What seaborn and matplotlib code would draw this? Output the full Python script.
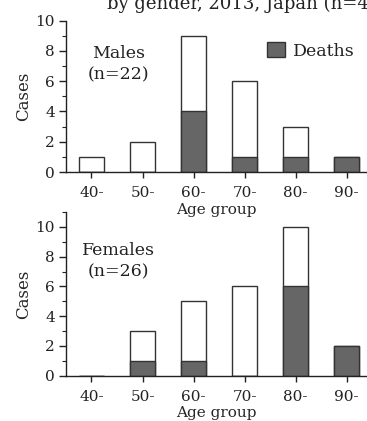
import numpy as np
import pandas as pd
import matplotlib
matplotlib.use("Agg")
import matplotlib.pyplot as plt
from matplotlib.patches import Patch
from matplotlib.ticker import MultipleLocator
import seaborn as sns

age_groups = ["40-", "50-", "60-", "70-", "80-", "90-"]
male_cases = [1, 2, 9, 6, 3, 1]
male_deaths = [0, 0, 4, 1, 1, 1]
female_cases = [0, 3, 5, 6, 10, 2]
female_deaths = [0, 1, 1, 0, 6, 2]

sns.set_theme(style="ticks")
plt.rcParams["font.family"] = ["DejaVu Serif"]
plt.rcParams["text.color"] = "#222222"

fig = plt.figure(figsize=(3.67, 4.21), dpi=100)
ax1 = fig.add_axes([0.1798, 0.5914, 0.8202, 0.3594])
ax2 = fig.add_axes([0.1798, 0.1076, 0.8202, 0.3888])

edge = "#333333"
gray = "#666666"

def panel(ax, cases, deaths, ymax, label, ly):
    ax.patch.set_alpha(0)
    df = pd.DataFrame({"age": age_groups, "cases": cases, "deaths": deaths})
    sns.barplot(data=df, x="age", y="cases", color="white", edgecolor=edge,
                linewidth=1.0, width=0.5, saturation=1, ax=ax)
    sns.barplot(data=df, x="age", y="deaths", color=gray, edgecolor=edge,
                linewidth=1.0, width=0.5, saturation=1, ax=ax)
    ax.set_xlim(-0.5, 5.4)
    ax.set_ylim(0, ymax)
    ax.yaxis.set_major_locator(MultipleLocator(2))
    ax.yaxis.set_minor_locator(MultipleLocator(1))
    ax.tick_params(axis="y", which="major", length=5, width=1, labelsize=11, colors="#222222", pad=3)
    ax.tick_params(axis="y", which="minor", length=3, width=0.8, colors="#222222")
    ax.tick_params(axis="x", length=4, width=1, labelsize=11, colors="#222222", pad=6)
    for s in ["top", "right"]:
        ax.spines[s].set_visible(False)
    for s in ["left", "bottom"]:
        ax.spines[s].set_color("#222222")
        ax.spines[s].set_linewidth(1.0)
    ax.set_ylabel("Cases", fontsize=12, labelpad=2)
    ax.set_xlabel("Age group", fontsize=11, labelpad=2)
    ax.text(0.175, ly, label, transform=ax.transAxes, ha="center", va="center",
            fontsize=12.5, linespacing=1.35)

panel(ax1, male_cases, male_deaths, 10, "Males\n(n=22)", 0.71)
panel(ax2, female_cases, female_deaths, 11, "Females\n(n=26)", 0.70)

ax1.legend(handles=[Patch(facecolor=gray, edgecolor=edge, linewidth=1.0, label="Deaths")],
           loc="upper left", bbox_to_anchor=(0.669, 0.86), frameon=False,
           fontsize=12.5, handlelength=1.0, handleheight=1.0, handletextpad=0.45,
           borderaxespad=0, borderpad=0)

fig.text(0.2916, 0.9786, "by gender, 2013, Japan (n=48)", fontsize=13, va="baseline", ha="left")

fig.savefig("out.png", dpi=100)
